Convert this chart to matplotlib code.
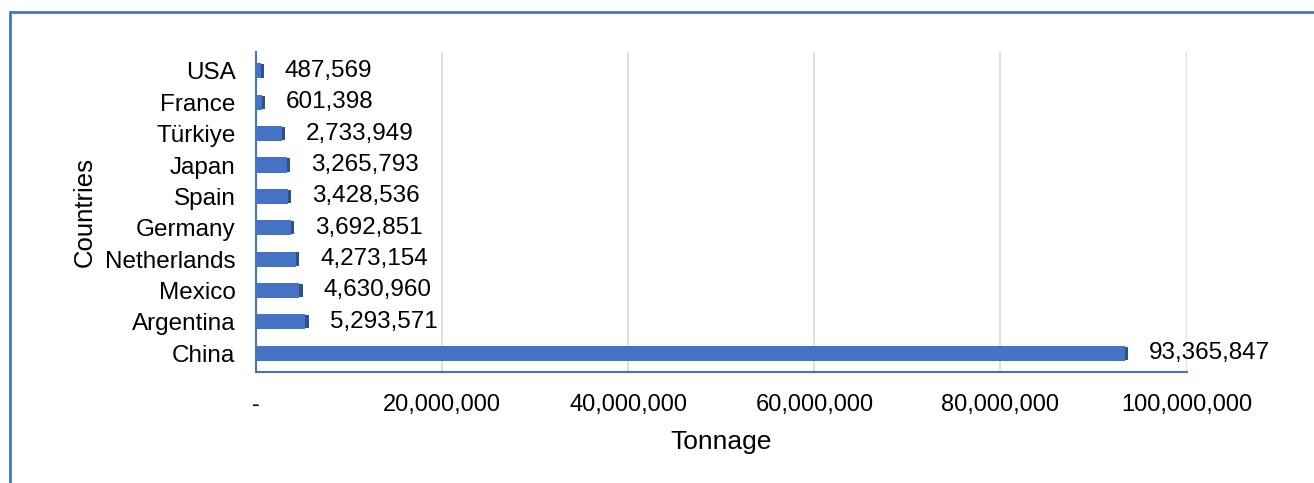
import matplotlib.pyplot as plt
from matplotlib.patches import Rectangle
from matplotlib.ticker import FuncFormatter

plt.rcParams['font.family'] = ['Liberation Sans', 'DejaVu Sans']

# data (top to bottom in the chart)
countries = ['USA', 'France', 'Türkiye', 'Japan', 'Spain', 'Germany',
             'Netherlands', 'Mexico', 'Argentina', 'China']
tonnage = [487569, 601398, 2733949, 3265793, 3428536, 3692851,
           4273154, 4630960, 5293571, 93365847]

blue = '#4472C4'
dark = '#2F528F'

fig = plt.figure(figsize=(13.14, 4.83), dpi=100)
ax = fig.add_axes([0.195, 0.23, 0.708, 0.662])

ypos = list(range(len(countries)))[::-1]
ax.barh(ypos, tonnage, height=0.48, color=blue, zorder=3)
# darker side face for the 3D look
side = [350000 for v in tonnage]
ax.barh(ypos, side, left=tonnage, height=0.42, color=dark, zorder=3)

for y, v in zip(ypos, tonnage):
    ax.text(v + 2600000, y, f'{v:,}', va='center', ha='left', fontsize=17.5)

ax.set_xlim(0, 100000000)
ax.set_ylim(-0.6, len(countries) - 0.4)
ax.set_yticks(ypos)
ax.set_yticklabels(countries, fontsize=17.5)
ax.set_xticks([0, 20000000, 40000000, 60000000, 80000000, 100000000])
ax.xaxis.set_major_formatter(FuncFormatter(lambda x, p: '-' if x == 0 else f'{x:,.0f}'))
ax.tick_params(axis='x', labelsize=17, length=0, pad=16)
ax.tick_params(axis='y', length=0, pad=15)

ax.grid(axis='x', color='#d9d9d9', linewidth=1.2, zorder=0)
for s in ['top', 'right']:
    ax.spines[s].set_visible(False)
ax.spines['left'].set_color(blue)
ax.spines['bottom'].set_color(blue)
ax.spines['left'].set_linewidth(1.5)
ax.spines['bottom'].set_linewidth(1.5)

ax.set_xlabel('Tonnage', fontsize=19, labelpad=10)
ax.set_ylabel('Countries', fontsize=18.5, labelpad=6)

# outer chart border
fig.patches.append(Rectangle((10 / 1314, -0.1), 1.2, 1 - 12 / 483 + 0.1,
                             transform=fig.transFigure, fill=False,
                             edgecolor=blue, linewidth=2))

fig.savefig('out.png', dpi=100)
